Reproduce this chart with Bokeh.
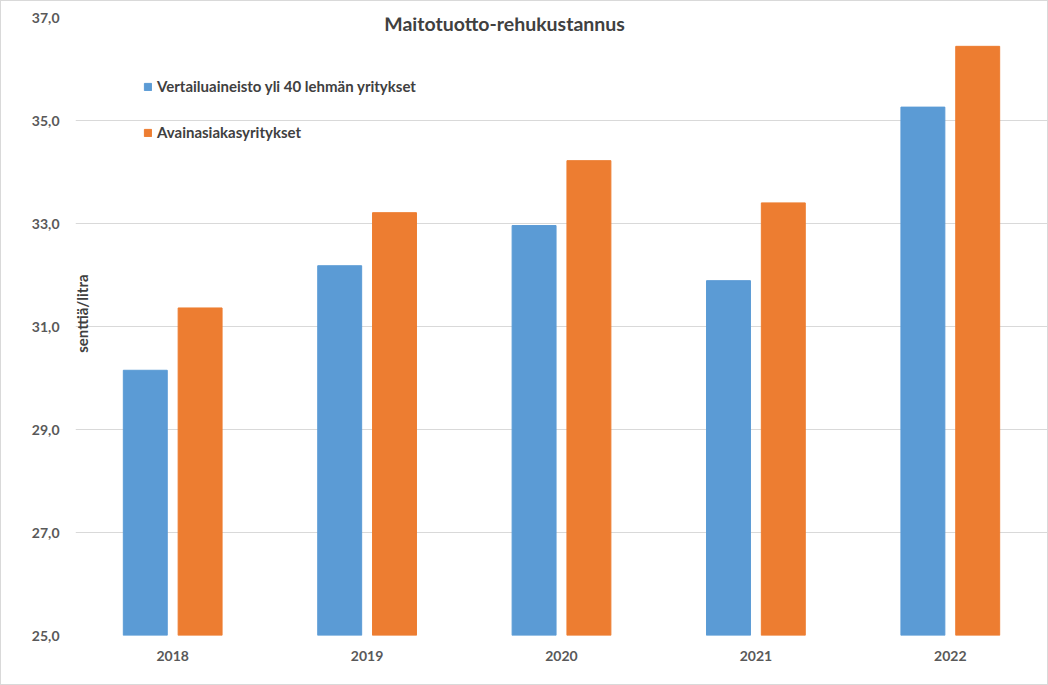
from math import pi
from bokeh.plotting import figure
from bokeh.models import (FactorRange, ColumnDataSource, Legend, LegendItem, Label,
                          FixedTicker, Range1d)
from bokeh.transform import dodge
from bokeh.embed import file_html
from bokeh.resources import INLINE

# ---- data ----
years = ["2018", "2019", "2020", "2021", "2022"]
vertailu = [30.15, 32.18, 32.96, 31.89, 35.26]
avain = [31.36, 33.21, 34.22, 33.40, 36.44]
series_names = ["Vertailuaineisto yli 40 lehmän yritykset", "Avainasiakasyritykset"]
y_ticks = [25, 27, 29, 31, 33, 35, 37]
y_tick_labels = ["25,0", "27,0", "29,0", "31,0", "33,0", "35,0", "37,0"]
title_text = "Maitotuotto-rehukustannus"
y_title = "senttiä/litra"

BLUE = "#5B9BD5"
ORANGE = "#ED7D31"
FONT = "Lato"

src = ColumnDataSource(dict(year=years, vertailu=vertailu, avain=avain))

p = figure(x_range=FactorRange(*years, range_padding=0), y_range=Range1d(25, 37),
           width=1048, height=685, output_backend="svg", toolbar_location=None,
           min_border_left=74, min_border_right=2, min_border_top=16, min_border_bottom=51,
           title=None)
p.styles = {"border": "1px solid #d9d9d9", "background-color": "white"}
p.outline_line_color = None
p.background_fill_color = "white"
p.border_fill_color = "white"

r1 = p.vbar(x=dodge("year", -0.141, range=p.x_range), top="vertailu", bottom=25,
            width=0.226, source=src, fill_color=BLUE, line_color=BLUE)
r2 = p.vbar(x=dodge("year", 0.141, range=p.x_range), top="avain", bottom=25,
            width=0.226, source=src, fill_color=ORANGE, line_color=ORANGE)

# grid
p.xgrid.grid_line_color = None
p.ygrid.grid_line_color = "#d9d9d9"
p.ygrid.grid_line_width = 1

# axes
for ax in (p.xaxis[0], p.yaxis[0]):
    ax.axis_line_color = None
    ax.major_tick_line_color = None
    ax.minor_tick_line_color = None
    ax.major_label_text_font = FONT
    ax.major_label_text_font_style = "bold"
    ax.major_label_text_font_size = "14px"
    ax.major_label_text_color = "#595959"

p.xaxis.major_label_standoff = 9
p.yaxis.ticker = FixedTicker(ticks=y_ticks)
p.yaxis.major_label_overrides = {t: l for t, l in zip(y_ticks, y_tick_labels)}
p.yaxis.major_label_standoff = 10

# title (inside plot area, as in the reference)
p.add_layout(Label(x=2.207, y=36.88, text=title_text, text_font=FONT,
                   text_font_style="bold", text_font_size="19.5px", text_color="#404040",
                   text_align="center", text_baseline="middle"))
# y axis title
p.add_layout(Label(x=0.036, y=31.25, text=y_title, angle=pi / 2, text_font=FONT,
                   text_font_style="bold", text_font_size="15px", text_color="#404040",
                   text_align="center", text_baseline="middle"))

legend = Legend(items=[LegendItem(label=series_names[0], renderers=[r1]),
                       LegendItem(label=series_names[1], renderers=[r2])],
                location=(68, 493), orientation="vertical")
legend.glyph_width = 9
legend.glyph_height = 9
legend.label_standoff = 5
legend.label_height = 20
legend.spacing = 26
legend.padding = 0
legend.margin = 0
legend.border_line_color = None
legend.background_fill_alpha = 0
legend.label_text_font = FONT
legend.label_text_font_style = "bold"
legend.label_text_font_size = "15px"
legend.label_text_color = "#404040"
p.add_layout(legend, "center")

open("out.html", "w").write(file_html(p, INLINE))
